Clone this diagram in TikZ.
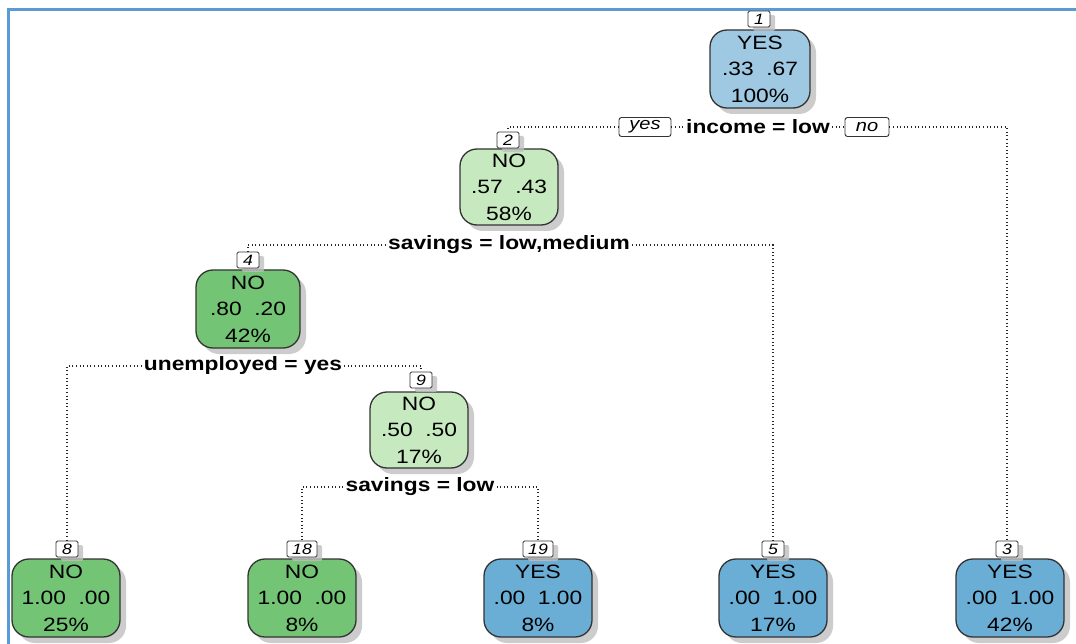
\documentclass[tikz,border=0pt]{standalone}
\usepackage{fontspec}
\setmainfont[FakeStretch=1.18]{Liberation Sans}
\usetikzlibrary{shadows}
\definecolor{paleblue}{HTML}{9FC8E2}
\definecolor{deepblue}{HTML}{6AAED6}
\definecolor{palegreen}{HTML}{C7E9C0}
\definecolor{deepgreen}{HTML}{74C476}
\definecolor{framecol}{HTML}{5B9BD5}
\definecolor{edgecol}{HTML}{333333}
\tikzset{
  treenode/.style={draw=edgecol, line width=1.3pt, rounded corners=17pt,
    minimum width=100pt, minimum height=78pt, align=center, inner sep=0pt,
    font=\fontsize{19.3}{26.5}\selectfont,
    drop shadow={shadow xshift=6pt, shadow yshift=-6pt, fill=black!25, opacity=0.8}},
  leafnode/.style={treenode, minimum width=108pt},
  idbox/.style={draw=edgecol, line width=0.9pt, fill=white, rounded corners=1.5pt,
    minimum height=16pt, inner sep=0pt, font=\fontsize{15}{15}\selectfont\itshape,
    drop shadow={shadow xshift=5pt, shadow yshift=-4pt, fill=black!25, opacity=0.8}},
  splitlabel/.style={fill=white, inner sep=2pt, font=\fontsize{19.3}{19}\selectfont\bfseries},
  answer/.style={draw=edgecol, line width=0.9pt, fill=white, rounded corners=2.5pt,
    minimum height=19pt, inner sep=0pt, font=\fontsize{17}{17}\selectfont\itshape},
  branch/.style={draw=black!85, line width=1.1pt, dash pattern=on 1pt off 2.6pt}
}
\begin{document}
\begin{tikzpicture}[x=1pt,y=-1pt]
\useasboundingbox (0,0) rectangle (1076,644);
% outer frame (top and left edges)
\draw[framecol, line width=2.3pt] (8.5,644) -- (8.5,9.5) -- (1076,9.5);

% root
\node[treenode, fill=paleblue] (n1) at (760,69) {YES\\.33\ \ .67\\100\%};
\node[idbox, minimum width=22pt] (l1) at (759,19) {1};
\node[splitlabel] (s1) at (758,127) {income = low};
\node[answer, minimum width=52pt] (yes) at (645,127) {yes};
\node[answer, minimum width=44pt] (no) at (867,127) {no};

% second level
\node[treenode, fill=palegreen, minimum width=98pt, minimum height=76pt] (n2) at (509,187) {NO\\.57\ \ .43\\58\%};
\node[idbox, minimum width=22pt] (l2) at (508,140) {2};
\node[splitlabel] (s2) at (509,245) {savings = low,medium};

\node[treenode, fill=deepgreen, minimum width=104pt, minimum height=78pt] (n4) at (248,309) {NO\\.80\ \ .20\\42\%};
\node[idbox, minimum width=22pt] (l4) at (248,260) {4};
\node[splitlabel] (s4) at (243,366) {unemployed = yes};

\node[treenode, fill=palegreen, minimum width=98pt, minimum height=76pt] (n9) at (419,430) {NO\\.50\ \ .50\\17\%};
\node[idbox, minimum width=22pt] (l9) at (421,380) {9};
\node[splitlabel] (s9) at (420,487) {savings = low};

% leaves
\node[leafnode, fill=deepgreen] (n8) at (66,598) {NO\\1.00\ \ .00\\25\%};
\node[idbox, minimum width=22pt] (l8) at (67,549) {8};
\node[leafnode, fill=deepgreen] (n18) at (302,598) {NO\\1.00\ \ .00\\8\%};
\node[idbox, minimum width=30pt] (l18) at (302,549) {18};
\node[leafnode, fill=deepblue] (n19) at (538,598) {YES\\.00\ \ 1.00\\8\%};
\node[idbox, minimum width=30pt] (l19) at (538,549) {19};
\node[leafnode, fill=deepblue] (n5) at (773,598) {YES\\.00\ \ 1.00\\17\%};
\node[idbox, minimum width=22pt] (l5) at (773,549) {5};
\node[leafnode, fill=deepblue] (n3) at (1010,598) {YES\\.00\ \ 1.00\\42\%};
\node[idbox, minimum width=22pt] (l3) at (1007,549) {3};

% branches
\draw[branch] (yes.east) -- (s1.west);
\draw[branch] (s1.east) -- (no.west);
\draw[branch] (yes.west) -| (l2.north);
\draw[branch] (no.east) -| (l3.north);
\draw[branch] (s2.west) -| (l4.north);
\draw[branch] (s2.east) -| (l5.north);
\draw[branch] (s4.west) -| (l8.north);
\draw[branch] (s4.east) -| (l9.north);
\draw[branch] (s9.west) -| (l18.north);
\draw[branch] (s9.east) -| (l19.north);
\end{tikzpicture}
\end{document}
